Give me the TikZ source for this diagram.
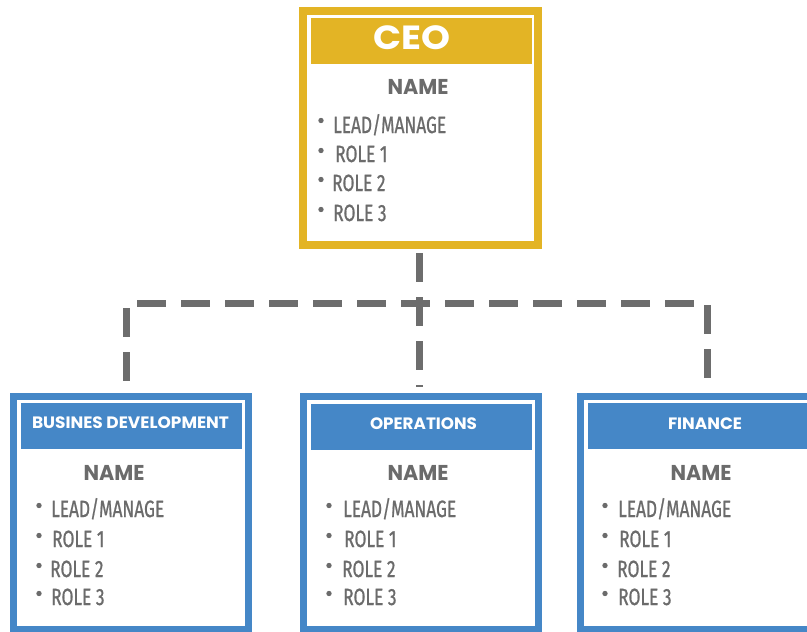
\documentclass[tikz,border=0pt]{standalone}
\usepackage{fontspec}
\usepackage{graphicx}
\newfontfamily\popfont{Poppins}
\newfontfamily\bodyfont[FakeBold=1]{Fira Sans}
\definecolor{ceoyellow}{HTML}{E3B425}
\definecolor{deptblue}{HTML}{4587C7}
\definecolor{txtgray}{HTML}{6B6B6B}
\definecolor{dashgray}{HTML}{6D6D6D}
\newlength\tmpw
\newlength\bodyw
\newcommand\fitx[3]{\settowidth{\tmpw}{#2#3}\pgfmathsetmacro\tmpr{#1/\tmpw}\scalebox{\tmpr}[1]{#2#3}}
\newcommand\bodyfnt{\bodyfont\fontsize{23.5}{23.5}\selectfont}
\newcommand\itm[1]{\settowidth{\bodyw}{\bodyfnt LEAD/MANAGE}\pgfmathsetmacro\bsx{113/\bodyw}\scalebox{\bsx}[1]{\bodyfnt #1}}
\begin{document}
\begin{tikzpicture}[x=1pt,y=-1pt,
  frame/.style={draw, line width=#1, fill=white, inner sep=0, rectangle},
  ceoframe/.style={frame=8pt, draw=ceoyellow, minimum width=235pt, minimum height=234pt},
  deptframe/.style={frame=7pt, draw=deptblue, minimum width=235pt, minimum height=233pt},
  hdr/.style={fill=#1, inner sep=0, minimum width=221pt, minimum height=46pt},
  hdrtext/.style={text=white, inner sep=0, anchor=base},
  nametext/.style={text=txtgray, inner sep=0, anchor=base},
  item/.style={text=txtgray, inner sep=0, anchor=base west},
  dot/.style={circle, fill=txtgray, inner sep=0, minimum size=5.4pt},
  link/.style={draw=dashgray, line width=7pt, dash pattern=on 29pt off 15pt}
]
\useasboundingbox (0,0) rectangle (807,632);
\clip (0,0) rectangle (807,632);

% ---- frames
\node[ceoframe] (ceo) at (420.5,128) {};
\node[deptframe] (bd) at (131,513) {};
\node[deptframe] (ops) at (421,513) {};
\node[deptframe] (fin) at (698,513) {};

% ---- headers
\node[hdr=ceoyellow] (ceoh) at (421.5,40.5) {};
\node[hdr=deptblue] (bdh) at (131.5,426) {};
\node[hdr=deptblue] (opsh) at (421,426.5) {};
\node[hdr=deptblue] (finh) at (698.5,426) {};

\node[hdrtext] (ceot) at (411.5,49) {\fitx{77}{\popfont\bfseries\fontsize{33.5}{33.5}\selectfont}{CEO}};
\node[hdrtext] (bdt) at (130.5,428.5) {\fitx{197}{\popfont\bfseries\fontsize{16.5}{16.5}\selectfont}{BUSINES DEVELOPMENT}};
\node[hdrtext] (opst) at (423.5,429) {\fitx{107}{\popfont\bfseries\fontsize{16.5}{16.5}\selectfont}{OPERATIONS}};
\node[hdrtext] (fint) at (705,429) {\fitx{74}{\popfont\bfseries\fontsize{16.5}{16.5}\selectfont}{FINANCE}};

% ---- names
\node[nametext] (ceon) at (418,94.5) {\fitx{61}{\popfont\bfseries\fontsize{21.5}{21.5}\selectfont}{NAME}};
\node[nametext] (bdn) at (114,480.5) {\fitx{61}{\popfont\bfseries\fontsize{21.5}{21.5}\selectfont}{NAME}};
\node[nametext] (opsn) at (418,480) {\fitx{61}{\popfont\bfseries\fontsize{21.5}{21.5}\selectfont}{NAME}};
\node[nametext] (finn) at (701,480) {\fitx{61}{\popfont\bfseries\fontsize{21.5}{21.5}\selectfont}{NAME}};

% ---- CEO items
\node[dot] (cd1) at (321,120.5) {};
\node[dot] (cd2) at (321,150.5) {};
\node[dot] (cd3) at (321,179.5) {};
\node[dot] (cd4) at (321,209.5) {};
\node[item] (ci1) at (333,133) {\itm{LEAD/MANAGE}};
\node[item] (ci2) at (335,162) {\itm{ROLE 1}};
\node[item] (ci3) at (332,191) {\itm{ROLE 2}};
\node[item] (ci4) at (333,221) {\itm{ROLE 3}};

% ---- BD items
\node[dot] (bd1) at (39,505.5) {};
\node[dot] (bd2) at (39,535.5) {};
\node[dot] (bd3) at (39,565.5) {};
\node[dot] (bd4) at (39,593.5) {};
\node[item] (bi1) at (51,517) {\itm{LEAD/MANAGE}};
\node[item] (bi2) at (52,547) {\itm{ROLE 1}};
\node[item] (bi3) at (50,577) {\itm{ROLE 2}};
\node[item] (bi4) at (51,605) {\itm{ROLE 3}};

% ---- OPS items
\node[dot] (od1) at (329,505.5) {};
\node[dot] (od2) at (329,535.5) {};
\node[dot] (od3) at (329,565.5) {};
\node[dot] (od4) at (329,593.5) {};
\node[item] (oi1) at (343,517) {\itm{LEAD/MANAGE}};
\node[item] (oi2) at (344,547) {\itm{ROLE 1}};
\node[item] (oi3) at (342,577) {\itm{ROLE 2}};
\node[item] (oi4) at (343,605) {\itm{ROLE 3}};

% ---- FIN items
\node[dot] (fd1) at (605,505.5) {};
\node[dot] (fd2) at (605,535.5) {};
\node[dot] (fd3) at (605,565.5) {};
\node[dot] (fd4) at (605,593.5) {};
\node[item] (fi1) at (618,517) {\itm{LEAD/MANAGE}};
\node[item] (fi2) at (619,547) {\itm{ROLE 1}};
\node[item] (fi3) at (617,577) {\itm{ROLE 2}};
\node[item] (fi4) at (618,605) {\itm{ROLE 3}};

% ---- connectors
\coordinate (ceoout) at (419,253);
\coordinate (opsin) at (419,387);
\coordinate (busl) at (137,303);
\coordinate (busr) at (694,303);
\coordinate (ltop) at (126.5,308);
\coordinate (lbot) at (126.5,381);
\coordinate (rtop) at (707,305);
\coordinate (rbot) at (707,378);
\draw[link] (ceoout) -- (opsin);
\draw[link] (busl) -- (busr);
\draw[link] (ltop) -- (lbot);
\draw[link] (rtop) -- (rbot);
\end{tikzpicture}
\end{document}
